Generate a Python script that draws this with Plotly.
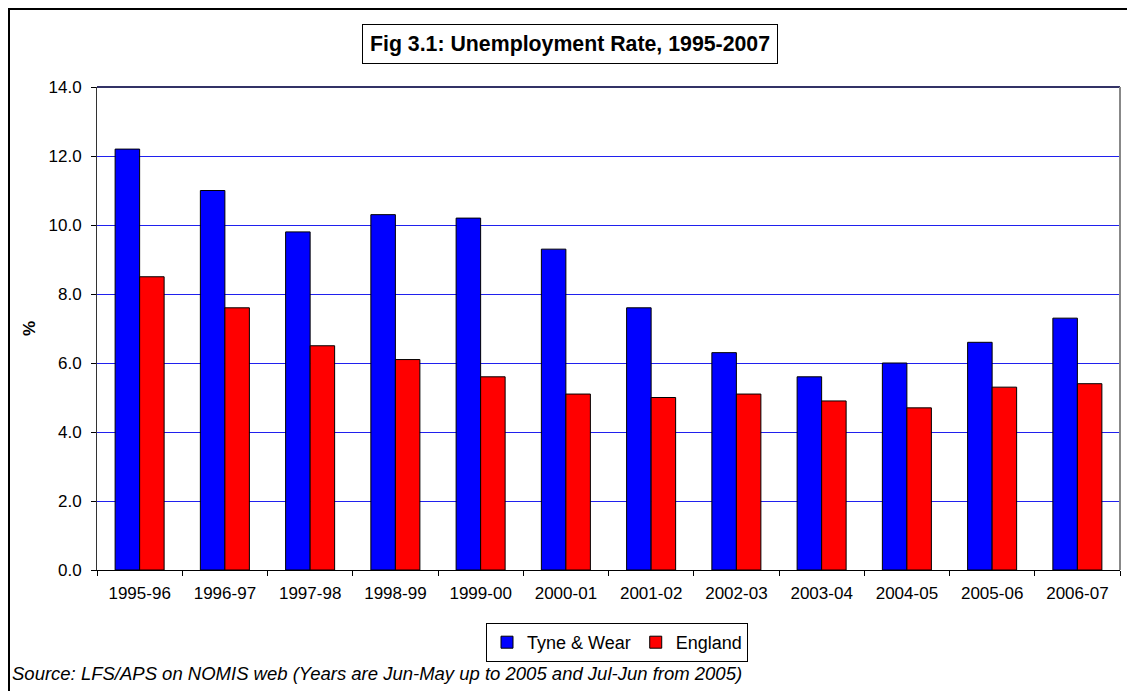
import plotly.graph_objects as go

categories = ["1995-96", "1996-97", "1997-98", "1998-99", "1999-00", "2000-01",
              "2001-02", "2002-03", "2003-04", "2004-05", "2005-06", "2006-07"]
tyne_wear = [12.2, 11.0, 9.8, 10.3, 10.2, 9.3, 7.6, 6.3, 5.6, 6.0, 6.6, 7.3]
england = [8.5, 7.6, 6.5, 6.1, 5.6, 5.1, 5.0, 5.1, 4.9, 4.7, 5.3, 5.4]
y_ticks = [0, 2, 4, 6, 8, 10, 12, 14]

W, H = 1127, 691
ML, MR, MT, MB = 97, 7, 87, 121
PW, PH = W - ML - MR, H - MT - MB

def px(x):
    return (x - ML) / PW

def py(y):
    return (H - MB - y) / PH

FONT = "Liberation Sans, Arial, sans-serif"

fig = go.Figure()
fig.add_trace(go.Bar(x=categories, y=tyne_wear, name="Tyne & Wear",
                     marker=dict(color="#0000FF", line=dict(color="black", width=1))))
fig.add_trace(go.Bar(x=categories, y=england, name="England",
                     marker=dict(color="#FF0000", line=dict(color="black", width=1))))

fig.update_layout(
    width=W, height=H,
    margin=dict(l=ML, r=MR, t=MT, b=MB),
    paper_bgcolor="white", plot_bgcolor="white",
    barmode="group", bargap=0.425, bargroupgap=0,
    font=dict(family=FONT, size=17, color="black"),
    showlegend=True,
    legend=dict(orientation="h", x=px(617), xanchor="center", y=py(623), yanchor="top",
                bordercolor="black", borderwidth=1, bgcolor="white",
                font=dict(size=18), itemwidth=30, tracegroupgap=0),
    xaxis=dict(type="category", showline=True, linecolor="black", linewidth=1,
               ticks="outside", tickson="boundaries", ticklen=5, tickcolor="black",
               showgrid=False, tickfont=dict(size=17), ticklabelstandoff=8),
    yaxis=dict(range=[0, 14], tickvals=y_ticks, tickformat=".1f",
               showline=True, linecolor="#333333", linewidth=1,
               ticks="outside", ticklen=5, tickcolor="black",
               showgrid=True, gridcolor="#2020EE", gridwidth=1,
               zeroline=False, tickfont=dict(size=17), ticklabelstandoff=6,
               title=dict(text="<b>%</b>", font=dict(size=17), standoff=8)),
    shapes=[
        dict(type="rect", xref="paper", yref="paper",
             x0=px(9), x1=px(1140), y0=py(9), y1=py(700),
             line=dict(color="black", width=2), layer="below"),
        dict(type="line", xref="paper", yref="paper",
             x0=0, x1=1, y0=1, y1=1, line=dict(color="#333366", width=2)),
        dict(type="line", xref="paper", yref="paper",
             x0=1, x1=1, y0=0, y1=1, line=dict(color="#888888", width=2)),
    ],
    annotations=[
        dict(text="<b>Fig 3.1: Unemployment Rate, 1995-2007</b>", xref="paper", yref="paper",
             x=px(570), y=py(44), xanchor="center", yanchor="middle", showarrow=False,
             font=dict(size=21.3), bordercolor="black", borderwidth=1, borderpad=7,
             bgcolor="white"),
        dict(text="<i>Source: LFS/APS on NOMIS web (Years are Jun-May up to 2005 and Jul-Jun from 2005)</i>",
             xref="paper", yref="paper", x=px(10), y=py(673), xanchor="left", yanchor="middle",
             showarrow=False, font=dict(size=18.5)),
    ],
)

fig.write_html("out.html")
